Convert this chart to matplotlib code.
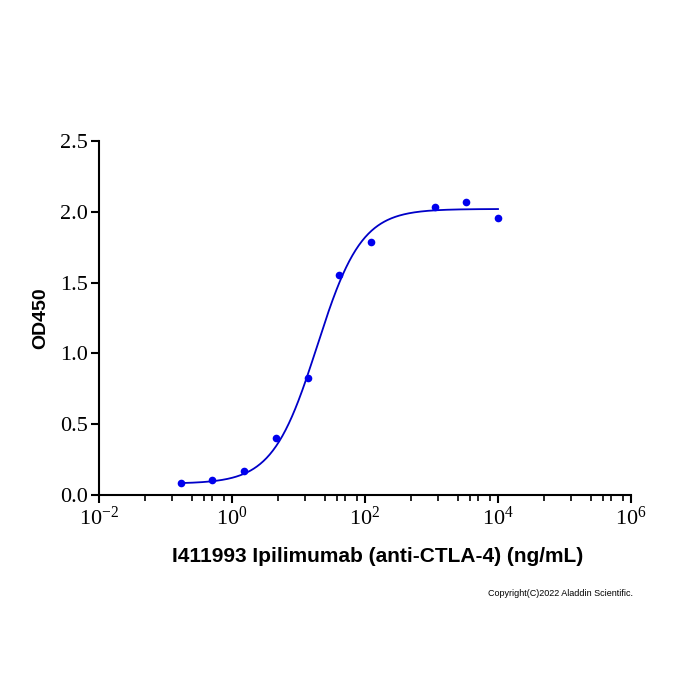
import numpy as np
import matplotlib
matplotlib.use("Agg")
import matplotlib.pyplot as plt
from matplotlib.ticker import FixedLocator, NullFormatter

# measured points (3-fold dilution series, ng/mL)
conc = [0.169, 0.508, 1.52, 4.57, 13.7, 41.2, 123.5, 1111, 3333, 10000]
od450 = [0.085, 0.104, 0.170, 0.400, 0.826, 1.556, 1.785, 2.036, 2.067, 1.958]

# 4PL fit parameters
fit_bottom = 0.08
fit_top = 2.02
fit_ec50 = 19.0
fit_hill = 1.3

x_major = [1e-2, 1e0, 1e2, 1e4, 1e6]
x_major_labels = ["$10^{-2}$", "$10^{0}$", "$10^{2}$", "$10^{4}$", "$10^{6}$"]
minor_steps = [0.05, 0.125, 0.25, 0.375, 0.5, 0.75]
y_ticks = [0.0, 0.5, 1.0, 1.5, 2.0, 2.5]

plt.rcParams["mathtext.fontset"] = "custom"
plt.rcParams["mathtext.rm"] = "Liberation Serif"
plt.rcParams["mathtext.it"] = "Liberation Serif"

fig = plt.figure(figsize=(7, 7), dpi=100)
ax = fig.add_axes([99 / 700, 205 / 700, 532 / 700, 354 / 700])

xs = np.logspace(np.log10(conc[0]), np.log10(conc[-1]), 400)
ys = fit_bottom + (fit_top - fit_bottom) / (1 + (fit_ec50 / xs) ** fit_hill)
ax.plot(xs, ys, color="#0000c8", lw=1.3, zorder=2)
ax.plot(conc, od450, "o", color="#0000ee", ms=5.5, mec="none", zorder=3)

ax.set_xscale("log")
ax.set_xlim(1e-2, 1e6)
ax.set_ylim(0, 2.5)

ax.xaxis.set_major_locator(FixedLocator(x_major))
ax.set_xticklabels(x_major_labels)
minors = [b * s * 100 for b in x_major[:-1] for s in minor_steps]
ax.xaxis.set_minor_locator(FixedLocator(minors))
ax.xaxis.set_minor_formatter(NullFormatter())

ax.set_yticks(y_ticks)
ax.set_yticklabels([f"{v:.1f}" for v in y_ticks])

for lab in ax.get_xticklabels() + ax.get_yticklabels():
    lab.set_fontfamily("Liberation Serif")
    lab.set_fontsize(16)

ax.spines["top"].set_visible(False)
ax.spines["right"].set_visible(False)
ax.spines["left"].set_linewidth(1.5)
ax.spines["bottom"].set_linewidth(1.5)
ax.tick_params(axis="both", which="major", length=6, width=1.5, direction="out", pad=2)
ax.tick_params(axis="x", which="minor", length=4, width=1.2, direction="out")

ax.set_ylabel("OD450", fontfamily="Liberation Sans", fontweight="bold", fontsize=14, labelpad=8)
ax.set_xlabel("I411993 Ipilimumab (anti-CTLA-4) (ng/mL)", fontfamily="Liberation Sans",
              fontweight="bold", fontsize=15)
ax.xaxis.set_label_coords(0.524, -0.148)

fig.text(633 / 700, 1 - 593 / 700, "Copyright(C)2022 Aladdin Scientific.",
         fontfamily="Liberation Sans", fontsize=6.5, ha="right", va="center")

fig.savefig("out.png", dpi=100)
